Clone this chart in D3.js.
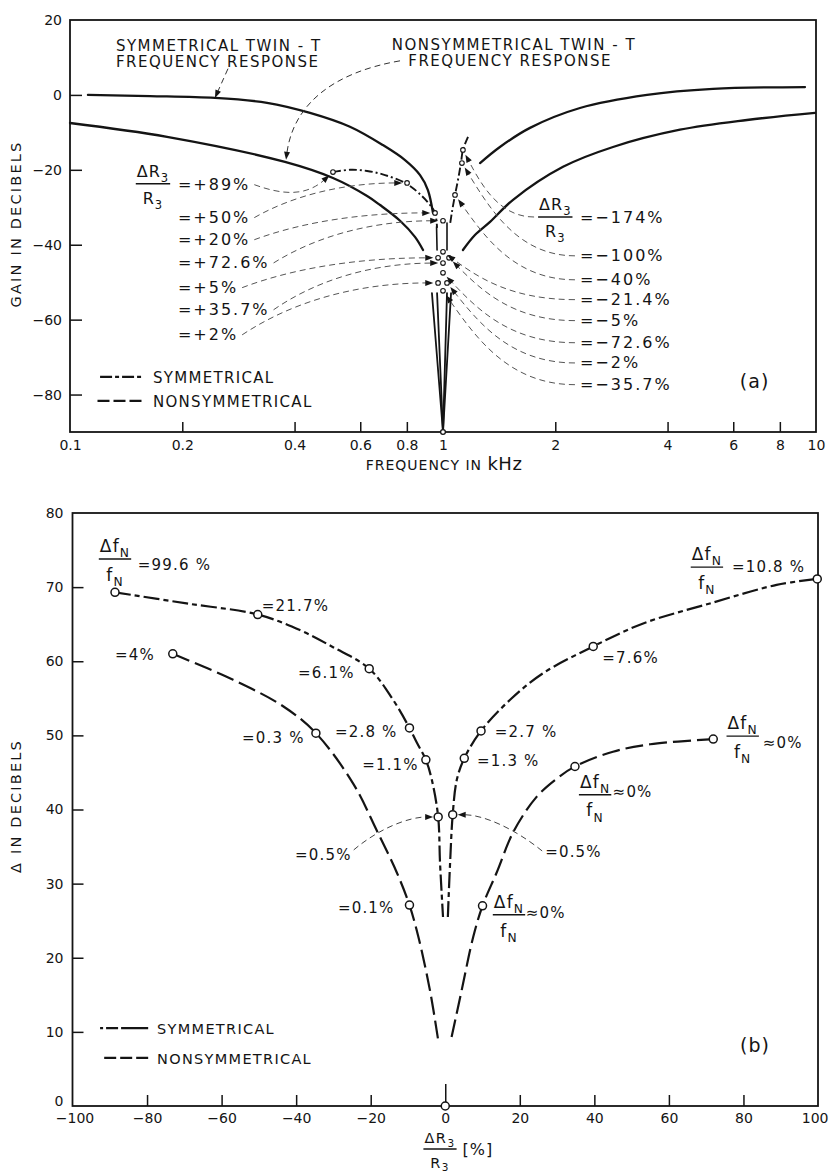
<!DOCTYPE html>
<html><head><meta charset="utf-8">
<script src="https://cdn.jsdelivr.net/npm/d3@7"></script>
<style>
body{margin:0;background:#fff;}
svg text{font-family:"DejaVu Sans",sans-serif;fill:#141414;}
</style></head><body>
<svg id="chart" width="829" height="1174"></svg>
<script>
// ================= DATA : panel (a) =================
const freqTicks = [0.1,0.2,0.4,0.6,0.8,1,2,4,6,8,10];
const freqTickLabels = ["0.1","0.2","0.4","0.6","0.8","1","2","4","6","8","10"];
const gainTicks = [20,0,-20,-40,-60,-80];
// [frequency kHz, gain dB]
const symResponseLow  = [[0.1117,0],[0.1638,-0.3],[0.2447,-0.8],[0.3375,-2.1],[0.440,-4.8],[0.563,-8.5],[0.690,-13.4],[0.791,-17.4],[0.868,-21.4],[0.911,-25.4],[0.940,-31.5]];
const symResponseHigh = [[1.257,-18.2],[1.421,-13.9],[1.711,-8.8],[2.329,-3.5],[3.524,0],[5.295,1.6],[9.344,2.1]];
const nonsymResponseLow  = [[0.1,-7.5],[0.182,-11.2],[0.377,-17.9],[0.507,-22.2],[0.626,-27.0],[0.678,-29.4],[0.767,-33.6],[0.841,-37.9],[0.884,-41.4]];
const nonsymResponseHigh = [[1.131,-41.4],[1.218,-37.4],[1.337,-33.9],[1.541,-28.0],[2.098,-19.2],[2.856,-13.9],[4.319,-9.3],[6.531,-6.7],[9.94,-4.8]];
const symLocusLow  = [[0.507,-20.6],[0.563,-20.0],[0.626,-20.3],[0.699,-21.4],[0.801,-23.8],[0.878,-27.0],[0.923,-29.4],[0.952,-31.5],[0.964,-35.5]];
const symLocusHigh = [[1.167,-11.2],[1.131,-14.7],[1.117,-18.2],[1.097,-22.7],[1.077,-26.7],[1.057,-31.2],[1.044,-34.7]];
const notchTops  = [[0.934,-52.9],[0.964,-52.9],[1.025,-52.9],[1.051,-52.9]];
const notchPoint = [1,-90];
const notchStubs = [[[0.961,-35.2],[0.964,-41.4]],[[1.025,-34.2],[1.025,-41.4]]];
const posLabels = ["=+89%","=+50%","=+20%","=+72.6%","=+5%","=+35.7%","=+2%"];
const posMinima = [[0.507,-20.6],[0.801,-23.5],[0.952,-31.5],[1.0,-33.6],[0.970,-43.5],[1.0,-44.9],[0.970,-50.2]];
const negLabels = ["=\u2212174%","=\u2212100%","=\u221240%","=\u221221.4%","=\u22125%","=\u221272.6%","=\u22122%","=\u221235.7%"];
const negMinima = [[1.131,-14.7],[1.124,-18.2],[1.077,-26.7],[1.0,-41.9],[1.038,-43.5],[1.0,-47.5],[1.025,-50.2],[1.0,-52.3]];

// ================= DATA : panel (b) =================
const dRTicks = [-100,-80,-60,-40,-20,0,20,40,60,80,100];
const deltaTicks = [0,10,20,30,40,50,60,70,80];
// [dR3/R3 %, delta dB]
const symDecrease = [[-88.6,69.3],[-69.4,67.8],[-50.3,66.3],[-39,64.2],[-30.1,61.9],[-20.4,59.0],[-14,54.8],[-9.6,51.0],[-7.6,49.0],[-5.2,46.7],[-3.6,44.0],[-1.9,39.0],[-1.4,32.8],[-0.6,25.5]];
const symIncrease = [[0.7,25.5],[1.3,32.8],[2.0,39.3],[3.1,44.0],[5.1,46.9],[9.6,50.6],[17.4,54.8],[26.3,58.4],[39.7,62.0],[53.1,65.1],[71.0,67.8],[88.9,70.3],[99.8,71.1]];
const nonsymDecrease = [[-73.1,61.0],[-56.9,57.5],[-43.4,53.9],[-34.7,50.3],[-24.7,43.5],[-18.4,37.2],[-13,31.5],[-9.6,27.1],[-7.2,22.8],[-4.1,15.6],[-1.9,8.9]];
const nonsymIncrease = [[1.7,9.3],[4.4,15.6],[7.5,22.8],[10.0,27.0],[13.8,31.5],[18.3,37.0],[24.5,41.7],[30,44.2],[34.8,45.8],[45,47.8],[55,48.8],[71.9,49.5]];
const symDecreaseMarks = [[-88.6,69.3],[-50.3,66.3],[-20.4,59.0],[-9.6,51.0],[-5.2,46.7],[-1.9,39.0]];
const symIncreaseMarks = [[99.8,71.1],[39.7,62.0],[9.6,50.6],[5.1,46.9],[2.0,39.3]];
const nonsymDecreaseMarks = [[-73.1,61.0],[-34.7,50.3],[-9.6,27.1]];
const nonsymIncreaseMarks = [[71.9,49.5],[34.8,45.8],[10.0,27.0]];
const originMark = [0,0];

// ================= DRAWING =================
const ink = "#141414";
const svg = d3.select("#chart");

function styleAxis(g, fs){
  g.select(".domain").remove();
  g.selectAll(".tick line").attr("stroke",ink).attr("stroke-width",1.5);
  g.selectAll(".tick text").attr("fill",ink).style("font-size",fs+"px").style("font-family","DejaVu Sans");
}
function txt(g, x, y, s, fs, ls, anchor){
  return g.append("text").attr("x",x).attr("y",y).attr("text-anchor",anchor||"start")
    .style("font-size",fs+"px").style("letter-spacing",(ls||0)+"px").text(s);
}
function fraction(g, cx, barY, num, numSub, den, denSub, size, ls, subDrop){
  const grp = g.append("g");
  const sd = subDrop == null ? 0.3 : subDrop;
  const mk = (main, sub, y) => {
    const t = grp.append("text").attr("x",cx).attr("y",y).attr("text-anchor","middle")
      .style("font-size",size+"px").style("letter-spacing",ls+"px");
    t.append("tspan").text(main);
    t.append("tspan").attr("dy",size*sd).style("font-size",(size*0.72)+"px").text(sub);
    return t;
  };
  const tn = mk(num, numSub, barY - size*0.42);
  const td = mk(den, denSub, barY + size*1.28);
  const w = Math.max(tn.node().getComputedTextLength(), td.node().getComputedTextLength()) + 2;
  grp.append("line").attr("x1",cx-w/2).attr("x2",cx+w/2).attr("y1",barY).attr("y2",barY)
    .attr("stroke",ink).attr("stroke-width",1.4);
  return w;
}
function drawArrow(g, p0, c1, c2, target, offset, color){
  const dx = target[0]-c2[0], dy = target[1]-c2[1];
  const L = Math.hypot(dx,dy) || 1;
  const ux = dx/L, uy = dy/L;
  const tip = [target[0]-ux*offset, target[1]-uy*offset];
  const p = d3.path();
  p.moveTo(p0[0],p0[1]);
  p.bezierCurveTo(c1[0],c1[1],c2[0],c2[1],tip[0]-ux*6,tip[1]-uy*6);
  g.append("path").attr("d",p.toString()).attr("fill","none").attr("stroke",color||"#444")
    .attr("stroke-width",1).attr("stroke-dasharray","6,4");
  const len=8, hw=3;
  const bx = tip[0]-ux*len, by = tip[1]-uy*len;
  g.append("path").attr("d",`M${tip[0]},${tip[1]}L${bx-uy*hw},${by+ux*hw}L${bx+uy*hw},${by-ux*hw}Z`).attr("fill",ink);
}

// ---------------- panel (a) ----------------
const gA = svg.append("g");
const xA = d3.scaleLog().domain([0.1,10]).range([70,816]);
const yA = d3.scaleLinear().domain([-90,20]).range([432,20]);
const lineA = d3.line().x(d=>xA(d[0])).y(d=>yA(d[1])).curve(d3.curveCatmullRom.alpha(0.5));
const PA = d => [xA(d[0]), yA(d[1])];

gA.append("rect").attr("x",xA(0.1)).attr("y",yA(20)).attr("width",xA(10)-xA(0.1))
  .attr("height",yA(-90)-yA(20)).attr("fill","none").attr("stroke",ink).attr("stroke-width",1.8);

const axAx = gA.append("g").attr("transform",`translate(0,${yA(-90)})`)
  .call(d3.axisBottom(xA).tickValues(freqTicks).tickFormat((d,i)=>freqTickLabels[i]).tickSize(-10).tickPadding(8));
styleAxis(axAx,14);
axAx.selectAll(".tick line").filter(d=>d===0.1||d===10||d===1).remove();
const axAy = gA.append("g").attr("transform",`translate(${xA(0.1)},0)`)
  .call(d3.axisLeft(yA).tickValues(gainTicks).tickSize(-12).tickPadding(8));
styleAxis(axAy,14);
axAy.selectAll(".tick line").filter(d=>d===20).remove();

// axis titles
gA.append("text").attr("transform",`translate(21,224) rotate(-90)`).attr("text-anchor","middle")
  .style("font-size","14.5px").style("letter-spacing","2.2px").text("GAIN IN DECIBELS");
const xt = gA.append("text").attr("x",444).attr("y",470).attr("text-anchor","middle").style("letter-spacing","1px");
xt.append("tspan").style("font-size","14px").text("FREQUENCY IN ");
xt.append("tspan").style("font-size","18px").style("letter-spacing","0.5px").text("kHz");

// response curves
const solidA = (data,w) => gA.append("path").attr("d",lineA(data)).attr("fill","none").attr("stroke",ink)
  .attr("stroke-width",w||2.3).attr("stroke-linecap","round");
solidA(symResponseLow); solidA(symResponseHigh);
solidA(nonsymResponseLow); solidA(nonsymResponseHigh);
notchTops.forEach(t => solidA([t, notchPoint], 1.8));
notchStubs.forEach(s => solidA(s, 1.6));
[symLocusLow, symLocusHigh].forEach(d => gA.append("path").attr("d",lineA(d)).attr("fill","none")
  .attr("stroke",ink).attr("stroke-width",1.9).attr("stroke-dasharray","8,3,2,3"));

// minima circles
const rA = 2.3;
[...posMinima, ...negMinima].forEach(d => gA.append("circle").attr("cx",xA(d[0])).attr("cy",yA(d[1])).attr("r",rA)
  .attr("fill","#fff").attr("stroke",ink).attr("stroke-width",1.1));
gA.append("circle").attr("cx",xA(notchPoint[0])).attr("cy",yA(notchPoint[1])).attr("r",2.4)
  .attr("fill","#fff").attr("stroke",ink).attr("stroke-width",1.3);

// titles with arrows
txt(gA, xA(0.1328), yA(11.8), "SYMMETRICAL TWIN - T", 15, 1.5);
txt(gA, xA(0.1328), yA(7.5), "FREQUENCY RESPONSE", 15, 1.5);
txt(gA, xA(0.7286), yA(12.0), "NONSYMMETRICAL TWIN - T", 15, 1.5);
txt(gA, xA(0.8072), yA(7.8), "FREQUENCY RESPONSE", 15, 1.5);
(function(){
  const p0 = PA([0.2652,7.0]), p3 = PA([0.2447,-0.8]);
  const d = [p3[0]-p0[0], p3[1]-p0[1]];
  drawArrow(gA, p0, [p0[0]+d[0]/3, p0[1]+d[1]/3], [p0[0]+2*d[0]/3, p0[1]+2*d[1]/3], p3, 0, "#333");
  const q0 = PA([0.767,9.1]), q3 = PA([0.3795,-17.3]);
  const dx = q0[0]-q3[0], dy = q3[1]-q0[1];
  drawArrow(gA, q0, [q0[0]-0.6*dx, q0[1]+0.12*dy], [q3[0]+0.06*dx, q3[1]-0.55*dy], q3, 0, "#333");
})();

// left labels
fraction(gA, xA(0.1669), yA(-23.7), "\u0394R", "3", "R", "3", 16, 1);
const posBase = [-25.3,-34.1,-40.0,-46.2,-52.8,-58.7,-65.4];
posLabels.forEach((s,i) => {
  const t = txt(gA, xA(0.1947), yA(posBase[i]), s, 16, 2);
  const p0 = [xA(0.1947) + t.node().getComputedTextLength() + 4, yA(posBase[i]) - 5];
  const p3 = PA(posMinima[i]);
  const dx = p3[0]-p0[0], dy = p3[1]-p0[1];
  let c1, c2;
  if (i === 0) { c1 = [p0[0]+0.35*dx, p0[1]+10]; c2 = [p3[0]-0.35*dx, p3[1]+25]; }
  else { c1 = [p0[0]+0.3*dx, p0[1]+0.75*dy]; c2 = [p3[0]-0.35*dx, p3[1]]; }
  drawArrow(gA, p0, c1, c2, p3, rA+2.5, "#555");
});
// right labels
const fw = fraction(gA, xA(2.0), yA(-32.6), "\u0394R", "3", "R", "3", 16, 1);
const negBase = [-34.2,-44.3,-50.7,-56.0,-61.6,-67.5,-72.9,-78.7];
negLabels.forEach((s,i) => {
  txt(gA, xA(2.329), yA(negBase[i]), s, 16, 2);
  const p0 = i === 0 ? [xA(2.0) - fw/2 - 4, yA(-32.6)] : [xA(2.329) - 5, yA(negBase[i]) - 5];
  const p3 = PA(negMinima[i]);
  const dx = p0[0]-p3[0], dy = p0[1]-p3[1];
  drawArrow(gA, p0, [p0[0]-0.5*dx, p0[1]], [p3[0]+0.25*dx, p3[1]+0.5*dy], p3, rA+3, "#555");
});

// legend (a)
gA.append("line").attr("x1",xA(0.1204)).attr("x2",xA(0.1569)).attr("y1",yA(-75.3)).attr("y2",yA(-75.3))
  .attr("stroke",ink).attr("stroke-width",2.2).attr("stroke-dasharray","12,3,4,3");
gA.append("line").attr("x1",xA(0.1185)).attr("x2",xA(0.1569)).attr("y1",yA(-81.7)).attr("y2",yA(-81.7))
  .attr("stroke",ink).attr("stroke-width",2.2).attr("stroke-dasharray","12,4");
txt(gA, xA(0.1669), yA(-76.9), "SYMMETRICAL", 15, 1.3);
txt(gA, xA(0.1669), yA(-83.3), "NONSYMMETRICAL", 15, 1.3);
txt(gA, xA(6.25), yA(-78.2), "(a)", 19, 1);

// ---------------- panel (b) ----------------
const gB = svg.append("g");
const xB = d3.scaleLinear().domain([-100,100]).range([72.5,818]);
const yB = d3.scaleLinear().domain([0,80]).range([1106,513]);
const lineB = d3.line().x(d=>xB(d[0])).y(d=>yB(d[1])).curve(d3.curveCatmullRom.alpha(0.5));
const PB = d => [xB(d[0]), yB(d[1])];

gB.append("rect").attr("x",xB(-100)).attr("y",yB(80)).attr("width",xB(100)-xB(-100))
  .attr("height",yB(0)-yB(80)).attr("fill","none").attr("stroke",ink).attr("stroke-width",1.8);
const axBx = gB.append("g").attr("transform",`translate(0,${yB(0)})`)
  .call(d3.axisBottom(xB).tickValues(dRTicks).tickFormat(d3.format("d")).tickSize(-11).tickPadding(7));
styleAxis(axBx,14);
axBx.selectAll(".tick line").filter(d=>d===-100||d===100).remove();
axBx.selectAll(".tick line").filter(d=>d===0).attr("y2",-22);
axBx.selectAll(".tick text").filter(d=>d===100).attr("text-anchor","end").attr("x",10);
axBx.selectAll(".tick text").filter(d=>d===-100).attr("x",2);
const axBy = gB.append("g").attr("transform",`translate(${xB(-100)},0)`)
  .call(d3.axisLeft(yB).tickValues(deltaTicks).tickSize(-11).tickPadding(9));
styleAxis(axBy,14);
axBy.selectAll(".tick line").filter(d=>d===0||d===80).remove();
axBy.selectAll(".tick text").filter(d=>d===0).attr("dy","-0.05em");

gB.append("text").attr("transform",`translate(21,806) rotate(-90)`).attr("text-anchor","middle")
  .style("font-size","14.5px").style("letter-spacing","2.2px").text("\u0394 IN DECIBELS");
const xfw = fraction(gB, 440, 1149, "\u0394R", "3", "R", "3", 14.5, 1.5, 0.25);
txt(gB, 440 + xfw/2 + 6, 1155, "[%]", 16, 1);

const symDash = "16,4,5,4", nonsymDash = "18,6";
[symDecrease, symIncrease].forEach(d => gB.append("path").attr("d",lineB(d)).attr("fill","none")
  .attr("stroke",ink).attr("stroke-width",2.2).attr("stroke-dasharray",symDash));
[nonsymDecrease, nonsymIncrease].forEach(d => gB.append("path").attr("d",lineB(d)).attr("fill","none")
  .attr("stroke",ink).attr("stroke-width",2.2).attr("stroke-dasharray",nonsymDash));
const rB = 4;
[...symDecreaseMarks, ...symIncreaseMarks, ...nonsymDecreaseMarks, ...nonsymIncreaseMarks, originMark]
  .forEach(d => gB.append("circle").attr("cx",xB(d[0])).attr("cy",yB(d[1])).attr("r",rB)
    .attr("fill","#fff").attr("stroke",ink).attr("stroke-width",1.5));

// annotations (b)
const annotB = [
 ["=99.6 %",-82.5,72.3],["=21.7%",-49.2,66.8],["=4%",-88.6,60.2],["=6.1%",-39.5,57.7],
 ["=2.8 %",-29.6,49.8],["=0.3 %",-54.5,49.0],["=1.1%",-22.3,45.3],["=2.7 %",13.3,49.8],
 ["=1.3 %",8.5,45.9],["=7.6%",42.1,59.8],["=10.8 %",76.9,72.0],["\u22480%",85.2,48.3],
 ["\u22480%",44.9,41.7],["=0.1%",-28.8,26.0],["\u22480%",21.6,25.4]
];
annotB.forEach(a => txt(gB, xB(a[1]), yB(a[2]), a[0], 15, 1.2));
[[-88.6,73.8],[70.2,72.7],[79.8,49.9],[40.2,42.0],[17.1,25.8]].forEach(f =>
  fraction(gB, xB(f[0]), yB(f[1]), "\u0394f", "N", "f", "N", 17, 1.2));
// 0.5% arrows
(function(){
  const tl = txt(gB, xB(-40.3), yB(33.2), "=0.5%", 15, 1.2);
  const p0 = [xB(-40.3) + tl.node().getComputedTextLength() + 2, yB(33.2) - 10];
  const p3 = PB(symDecreaseMarks[5]);
  const dx = p3[0]-p0[0], dy = p3[1]-p0[1];
  drawArrow(gB, p0, [p0[0]+0.3*dx, p0[1]+0.65*dy], [p3[0]-0.35*dx, p3[1]], p3, rB+1, "#444");
  txt(gB, xB(26.8), yB(33.6), "=0.5%", 15, 1.2);
  const q0 = [xB(26.8) - 3, yB(33.6) - 6];
  const q3 = PB(symIncreaseMarks[4]);
  const ex = q0[0]-q3[0], ey = q0[1]-q3[1];
  drawArrow(gB, q0, [q0[0]-0.3*ex, q0[1]-0.6*ey], [q3[0]+0.35*ex, q3[1]], q3, rB+1, "#444");
})();

// legend (b)
gB.append("line").attr("x1",xB(-92.6)).attr("x2",xB(-79.7)).attr("y1",yB(10.5)).attr("y2",yB(10.5))
  .attr("stroke",ink).attr("stroke-width",2.2).attr("stroke-dasharray","3,3,12,3,30");
gB.append("line").attr("x1",xB(-91.5)).attr("x2",xB(-79.7)).attr("y1",yB(6.5)).attr("y2",yB(6.5))
  .attr("stroke",ink).attr("stroke-width",2.2).attr("stroke-dasharray","12,4");
txt(gB, xB(-77.3), yB(9.7), "SYMMETRICAL", 14.5, 1.3);
txt(gB, xB(-77.3), yB(5.7), "NONSYMMETRICAL", 14.5, 1.3);
txt(gB, xB(79.1), yB(7.3), "(b)", 19, 1);
</script>
</body></html>
